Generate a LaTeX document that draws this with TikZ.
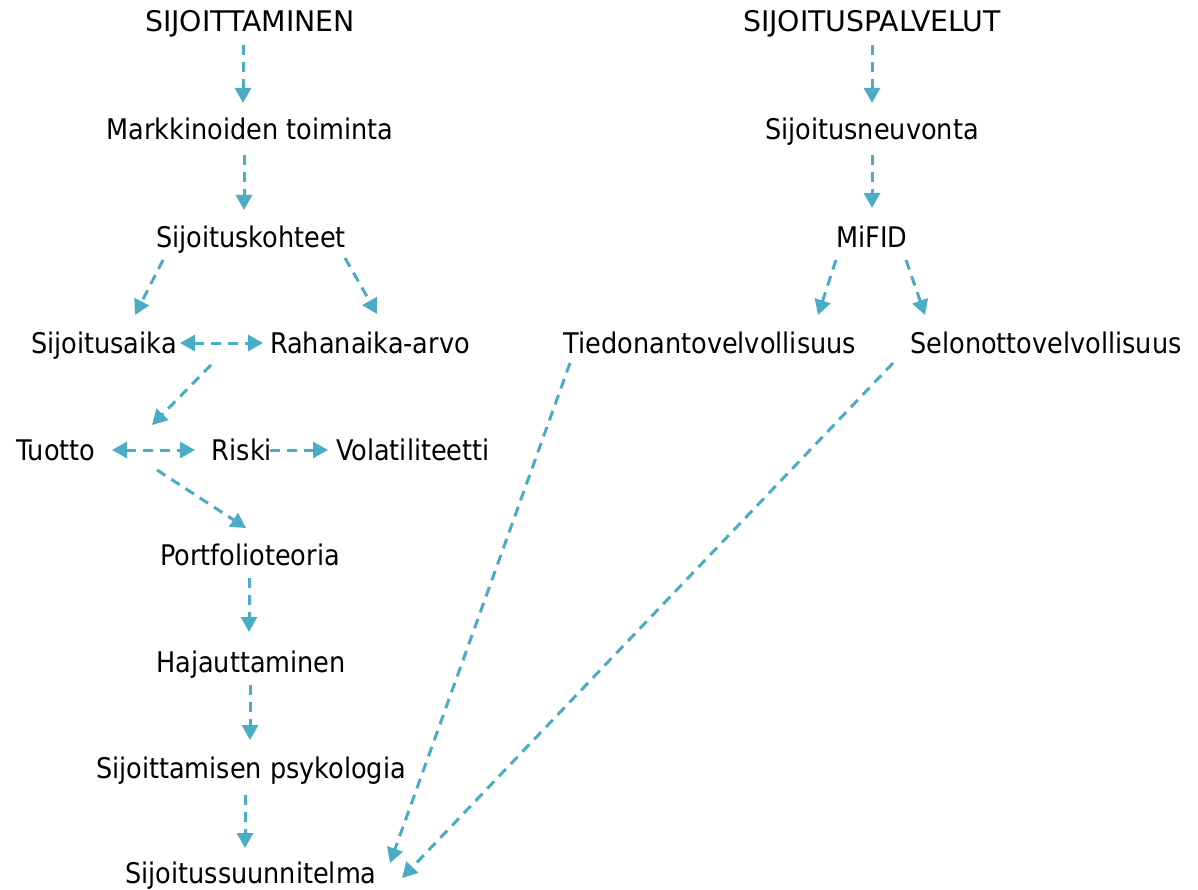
\documentclass[tikz,border=0pt]{standalone}
\usepackage{fontspec}
\setmainfont{DejaVu Sans Condensed}
\newfontfamily\headfont[FakeStretch=1.11]{DejaVu Sans Condensed}
\usetikzlibrary{arrows.meta}
\definecolor{linkblue}{HTML}{4BACC6}
\tikzset{
  term/.style={inner sep=0pt, anchor=base, font=\fontsize{28.4}{32}\selectfont},
  head/.style={term, font=\fontsize{28.4}{32}\headfont},
  tip/.tip={Triangle[length=15pt,width=16pt]},
  link/.style={draw=linkblue, line width=3pt, dash pattern=on 10pt off 7pt, -tip},
  dlink/.style={link, tip-tip}
}
\begin{document}
\begin{tikzpicture}[x=1pt,y=-1pt]
\useasboundingbox (0,0) rectangle (1198,890);
% left column
\node[head] (s1) at (250,32) {SIJOITTAMINEN};
\node[term] (m) at (250,140) {Markkinoiden toiminta};
\node[term] (k) at (251,248) {Sijoituskohteet};
\node[term] (aika) at (104,353) {Sijoitusaika};
\node[term] (raha) at (370,353) {Rahanaika-arvo};
\node[term] (tuotto) at (56,460) {Tuotto};
\node[term] (riski) at (242,460) {Riski};
\node[term] (vola) at (413,460) {Volatiliteetti};
\node[term] (port) at (250,565) {Portfolioteoria};
\node[term] (haja) at (251,672) {Hajauttaminen};
\node[term] (psyk) at (251,778) {Sijoittamisen psykologia};
\node[term] (suun) at (251,883) {Sijoitussuunnitelma};
% right column
\node[head] (s2) at (872,32) {SIJOITUSPALVELUT};
\node[term] (neuv) at (872,140) {Sijoitusneuvonta};
\node[term] (mifid) at (872,248) {MiFID};
\node[term] (tied) at (710,353) {Tiedonantovelvollisuus};
\node[term] (selon) at (1046,353) {Selonottovelvollisuus};
% connectors
\draw[link] ([shift={(-7,13)}]s1.base) -- ([shift={(-7,-37)}]m.base);
\draw[link] ([shift={(-6,15)}]m.base) -- ([shift={(-7,-38)}]k.base);
\draw[link] ([shift={(-88,12)}]k.base) -- ([shift={(31,-38)}]aika.base);
\draw[link] ([shift={(94,10)}]k.base) -- ([shift={(7,-39)}]raha.base);
\draw[dlink] ([shift={(76,-10)}]aika.base) -- ([shift={(-107,-10)}]raha.base);
\draw[link] ([shift={(-159,12)}]raha.base) -- ([shift={(96,-35)}]tuotto.base);
\draw[dlink] ([shift={(56,-10)}]tuotto.base) -- ([shift={(-47,-10)}]riski.base);
\draw[link] ([shift={(28,-10)}]riski.base) -- ([shift={(-85,-10)}]vola.base);
\draw[link] ([shift={(101,10)}]tuotto.base) -- ([shift={(-4,-37)}]port.base);
\draw[link] ([shift={(-1,13)}]port.base) -- ([shift={(-2,-40)}]haja.base);
\draw[link] ([shift={(-1,13)}]haja.base) -- ([shift={(-1,-38)}]psyk.base);
\draw[link] ([shift={(-6,17)}]psyk.base) -- ([shift={(-6,-35)}]suun.base);
\draw[link] ([shift={(-140,10)}]tied.base) -- ([shift={(139,-20)}]suun.base);
\draw[link] ([shift={(-153,10)}]selon.base) -- ([shift={(151,-5)}]suun.base);
\draw[link] ([shift={(0,13)}]s2.base) -- ([shift={(0,-37)}]neuv.base);
\draw[link] ([shift={(0,15)}]neuv.base) -- ([shift={(0,-40)}]mifid.base);
\draw[link] ([shift={(-36,12)}]mifid.base) -- ([shift={(108,-38)}]tied.base);
\draw[link] ([shift={(34,12)}]mifid.base) -- ([shift={(-121,-38)}]selon.base);
\end{tikzpicture}
\end{document}
